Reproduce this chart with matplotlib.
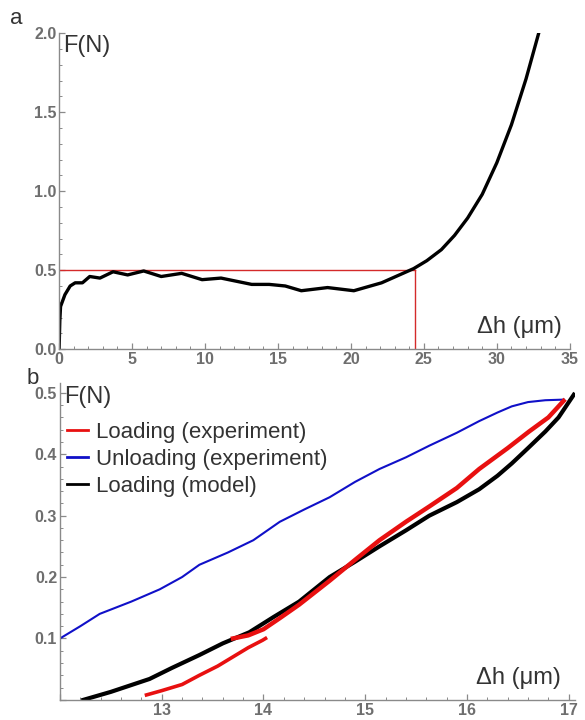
"""
Force vs. displacement: (a) full loading curve, (b) loading/unloading cycle vs. model.
"""
import matplotlib
matplotlib.use("Agg")
import matplotlib.pyplot as plt
from matplotlib.ticker import MultipleLocator

# ---- panel a: loading curve
a_dh = [0, 0.05, 0.1, 0.4, 0.76, 1.1, 1.6, 2.1, 2.8, 3.7, 4.7, 5.8, 7.0, 8.4,
        9.8, 11.1, 13.2, 14.4, 15.5, 16.6, 18.4, 20.2, 22.1, 24.3, 25.2, 26.2,
        27.1, 28.0, 29.0, 30.0, 31.0, 32.0, 32.9]
a_f = [0, 0.18, 0.27, 0.345, 0.40, 0.42, 0.42, 0.46, 0.45, 0.49, 0.47, 0.495,
       0.46, 0.48, 0.44, 0.45, 0.41, 0.41, 0.40, 0.37, 0.39, 0.37, 0.42, 0.51,
       0.56, 0.63, 0.72, 0.83, 0.98, 1.18, 1.42, 1.71, 2.01]
a_ref_dh = 24.4
a_ref_f = 0.5

# ---- panel b: cycle
load1_dh = [12.85, 13.0, 13.2, 13.37, 13.55, 13.7, 13.85, 13.99, 14.02]
load1_f = [0.008, 0.015, 0.025, 0.04, 0.055, 0.07, 0.085, 0.097, 0.10]
load2_dh = [13.7, 13.85, 14.0, 14.16, 14.35, 14.65, 14.9, 15.14, 15.4, 15.63,
            15.9, 16.12, 16.4, 16.61, 16.8, 16.95]
load2_f = [0.10, 0.105, 0.115, 0.133, 0.155, 0.194, 0.228, 0.26, 0.29, 0.315,
           0.345, 0.376, 0.41, 0.437, 0.46, 0.487]
unload_dh = [12.0, 12.2, 12.39, 12.7, 12.98, 13.2, 13.37, 13.65, 13.9, 14.16,
             14.4, 14.65, 14.9, 15.14, 15.4, 15.63, 15.9, 16.12, 16.3, 16.44,
             16.6, 16.77, 16.95]
unload_f = [0.10, 0.12, 0.14, 0.16, 0.18, 0.20, 0.22, 0.24, 0.26, 0.29, 0.31,
            0.33, 0.355, 0.376, 0.395, 0.414, 0.435, 0.454, 0.468, 0.478,
            0.485, 0.488, 0.489]
model_dh = [12.23, 12.5, 12.88, 13.1, 13.37, 13.6, 13.86, 14.1, 14.35, 14.65,
            14.9, 15.14, 15.4, 15.63, 15.9, 16.12, 16.3, 16.44, 16.6, 16.77,
            16.9, 17.05]
model_f = [0.0, 0.013, 0.034, 0.052, 0.073, 0.092, 0.11, 0.135, 0.16, 0.2,
           0.225, 0.25, 0.276, 0.30, 0.322, 0.343, 0.365, 0.385, 0.41, 0.437,
           0.46, 0.497]

plt.rcParams["font.family"] = ["Liberation Sans", "DejaVu Sans"]
AXIS_GRAY = "#8a8a8a"
TICK_GRAY = "#6e6e6e"
TEXT = "#333333"


def style_axes(ax):
    for side in ("top", "right"):
        ax.spines[side].set_visible(False)
    for side in ("left", "bottom"):
        ax.spines[side].set_color(AXIS_GRAY)
        ax.spines[side].set_linewidth(1.0)
    ax.tick_params(which="both", direction="in", color=AXIS_GRAY,
                   labelcolor=TICK_GRAY, labelsize=11.5, pad=2)
    ax.tick_params(which="major", length=4, width=0.9)
    ax.tick_params(which="minor", length=2, width=0.7)
    for lbl in ax.get_xticklabels() + ax.get_yticklabels():
        lbl.set_fontweight("bold")


fig = plt.figure(figsize=(5.85, 7.2), dpi=100)

# panel a
ax1 = fig.add_axes([0.101, 0.515, 0.873, 0.439])
ax1.plot([0, a_ref_dh], [a_ref_f, a_ref_f], color="#d42a2a", lw=1.0)
ax1.plot([a_ref_dh, a_ref_dh], [0, a_ref_f], color="#d42a2a", lw=1.0)
ax1.plot(a_dh, a_f, color="black", lw=2.4, solid_capstyle="round")
ax1.set_xlim(0, 35)
ax1.set_ylim(0, 2.0)
ax1.xaxis.set_major_locator(MultipleLocator(5))
ax1.xaxis.set_minor_locator(MultipleLocator(1))
ax1.yaxis.set_major_locator(MultipleLocator(0.5))
ax1.yaxis.set_minor_locator(MultipleLocator(0.1))
ax1.yaxis.set_major_formatter(lambda v, p: f"{v:.1f}")
style_axes(ax1)
ax1.text(0.008, 0.995, "F(N)", transform=ax1.transAxes, fontsize=17,
         color=TEXT, va="top", ha="left")
ax1.text(0.985, 0.035, "\u0394h (\u03bcm)", transform=ax1.transAxes,
         fontsize=17, color=TEXT, va="bottom", ha="right")
fig.text(0.017, 0.975, "a", fontsize=16, color=TEXT, va="center")

# panel b
ax2 = fig.add_axes([0.1026, 0.028, 0.880, 0.44])
ax2.plot(unload_dh, unload_f, color="#1010c8", lw=1.5,
         label="Unloading (experiment)")
ax2.plot(model_dh, model_f, color="black", lw=3.0, label="Loading (model)")
ax2.plot(load1_dh, load1_f, color="#e81010", lw=2.6,
         label="Loading (experiment)")
ax2.plot(load2_dh, load2_f, color="#e81010", lw=3.2)
ax2.set_xlim(12.0, 17.06)
ax2.set_ylim(0, 0.516)
ax2.xaxis.set_major_locator(MultipleLocator(1))
ax2.xaxis.set_minor_locator(MultipleLocator(0.2))
ax2.yaxis.set_major_locator(MultipleLocator(0.1))
ax2.yaxis.set_minor_locator(MultipleLocator(0.02))
ax2.xaxis.set_major_formatter(lambda v, p: "" if v < 12.5 else f"{v:.0f}")
ax2.yaxis.set_major_formatter(lambda v, p: "" if v < 0.05 else f"{v:.1f}")
style_axes(ax2)
ax2.text(0.008, 0.99, "F(N)", transform=ax2.transAxes, fontsize=17,
         color=TEXT, va="top", ha="left")
ax2.text(0.972, 0.035, "\u0394h (\u03bcm)", transform=ax2.transAxes,
         fontsize=17, color=TEXT, va="bottom", ha="right")
fig.text(0.045, 0.474, "b", fontsize=16, color=TEXT, va="center")

handles, labels = ax2.get_legend_handles_labels()
order = [2, 0, 1]
leg = ax2.legend([handles[i] for i in order], [labels[i] for i in order],
                 loc="upper left", bbox_to_anchor=(-0.004, 0.905),
                 frameon=False, fontsize=16, handlelength=0.95,
                 handletextpad=0.35, labelspacing=0.27, borderaxespad=0)
for t in leg.get_texts():
    t.set_color(TEXT)
for h in leg.get_lines():
    h.set_linewidth(2.0)

fig.savefig("out.png", dpi=100)
